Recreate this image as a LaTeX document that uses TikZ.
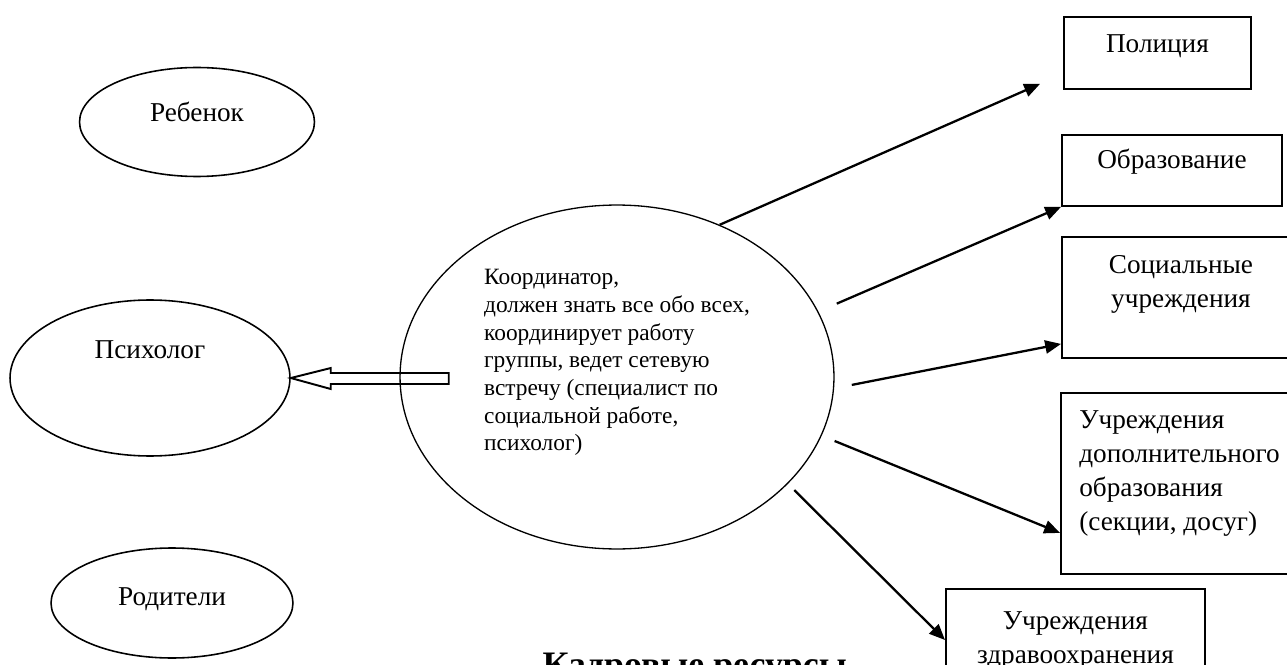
\documentclass[tikz,border=0pt]{standalone}
\usepackage{fontspec}
\setmainfont{Liberation Serif}
\usetikzlibrary{shapes,arrows.meta}

\begin{document}
\begin{tikzpicture}[
        x=0.02cm, y=-0.02cm,
        every node/.style={font=\fontsize{15.5}{19.35}\selectfont},
        box/.style={draw, rectangle, line width=1.1pt, inner sep=0pt, align=center, anchor=north west},
        oval/.style={draw, ellipse, line width=0.9pt, inner sep=0pt},
        arrow/.style={-{Triangle[length=9pt,width=7.5pt]}, line width=1.3pt},
        hollow/.style={line width=1.1pt, line join=miter}
    ]
        \useasboundingbox (0,0) rectangle (1287,665);
        \clip (0,0) rectangle (1287,665);

        % Left column
        \node[oval, minimum width=4.7cm, minimum height=2.18cm, text height=0.4cm, text depth=0.4cm] (child) at (197,122) {Ребенок};
        \node[oval, minimum width=5.6cm, minimum height=3.12cm, text height=0.4cm, text depth=1.2cm] (psych) at (150,378) {Психолог};
        \node[oval, minimum width=4.84cm, minimum height=2.2cm, text height=0.44cm, text depth=0.36cm] (parents) at (172,603) {Родители};

        % Coordinator in the middle
        \node[oval, line width=0.75pt, minimum width=8.68cm, minimum height=6.88cm, align=left,
              font=\fontsize{13.3}{15.77}\selectfont, text height=3.2cm, text depth=0.24cm] (coord) at (617,377)
              {Координатор,\\должен знать все обо всех,\\координирует работу\\группы, ведет сетевую\\встречу (специалист по\\социальной работе,\\психолог)};

        % Right column
        \node[box, minimum width=3.74cm, text height=0.72cm, text depth=0.72cm] (police) at (1063,16) {Полиция};
        \node[box, minimum width=4.4cm, text height=0.68cm, text depth=0.74cm] (edu) at (1061,134) {Образование};
        \node[box, minimum width=4.76cm, text height=1.42cm, text depth=1.0cm] (social) at (1061,236) {Социальные\\учреждения};
        \node[box, minimum width=4.74cm, text height=2.76cm, text depth=0.86cm, align=left] (extra) at (1060,392)
              {Учреждения\\дополнительного\\образования\\(секции, досуг)};
        \node[box, minimum width=5.18cm, text height=1.5cm, text depth=0.8cm] (health) at (945,588) {Учреждения\\здравоохранения};

        \node[font=\fontsize{20.4}{24}\selectfont\bfseries, anchor=base east] (title) at (853,676) {Кадровые ресурсы};

        % Arrows
        \draw[hollow] (psych.east) -- ++(40,-10) -- ++(0,5) -- ++(118,0) -- ++(0,11) -- ++(-118,0) -- ++(0,5) -- cycle;
        \draw[arrow] (coord.56) -- ([xshift=-0.46cm,yshift=0.12cm]police.south west);
        \draw[arrow, shorten <=0.4cm] (coord.18) -- (edu.south west);
        \draw[arrow, shorten <=0.36cm] (coord.-3) -- ([yshift=0.3cm]social.south west);
        \draw[arrow, shorten <=0.28cm] (coord.-16) -- ([yshift=0.84cm]extra.south west);
        \draw[arrow, shorten <=0.18cm] (coord.-32) -- ([yshift=-1.04cm]health.north west);
\end{tikzpicture}
\end{document}
